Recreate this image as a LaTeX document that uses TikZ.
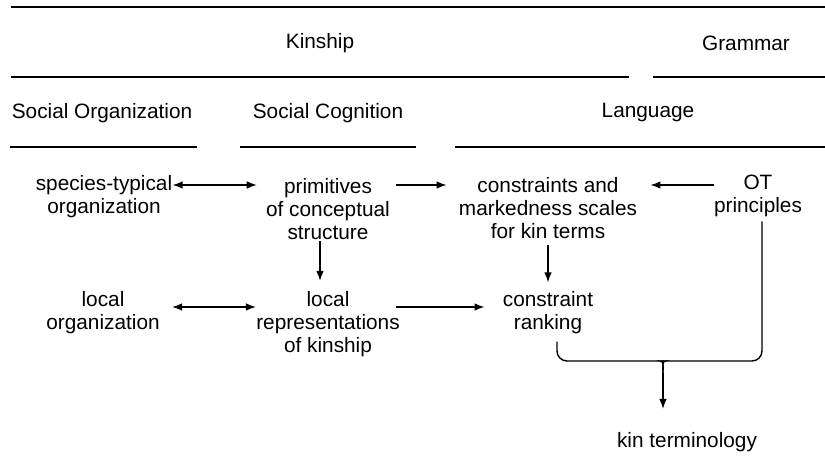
\documentclass[tikz,border=0pt]{standalone}
\usepackage{fontspec}
\setmainfont{Liberation Sans}
\usetikzlibrary{arrows.meta}
\usetikzlibrary{positioning}

\begin{document}
\begin{tikzpicture}[
    x=0.5pt, y=-0.5pt,
    font=\fontsize{10.4}{11.5}\selectfont
]
\tikzset{
    mynode/.style = {align=center, inner sep=0pt},
    rule/.style = {line width=0.7pt},
    edgea/.style = {-{Latex[length=5pt,width=3.8pt]}, line width=0.7pt},
    edgeb/.style = {{Latex[length=5pt,width=3.8pt]}-{Latex[length=5pt,width=3.8pt]}, line width=0.7pt},
    brace/.style = {line width=0.7pt, rounded corners=5pt}
}
\useasboundingbox (0,0) rectangle (825,474);
% header rows
\draw[rule] (11,7) -- (825,7);
\draw[rule] (11,77) -- (629,77);
\draw[rule] (653,77) -- (825,77);
\draw[rule] (10,147) -- (197,147);
\draw[rule] (240,147) -- (416,147);
\draw[rule] (455,147) -- (825,147);
\node[mynode] at (320,43) (kinship) {Kinship};
\node[mynode] at (746,43) (grammar) {Grammar};
\node[mynode] at (102,113) (socorg) {Social Organization};
\node[mynode] at (328,113) (soccog) {Social Cognition};
\node[mynode] at (648,113) (language) {Language};
% boxes
\node[mynode] at (104,197) (species) {species-typical\\organization};
\node[mynode] at (328,209) (primitives) {primitives\\of conceptual\\structure};
\node[mynode] at (548,208) (constraints) {constraints and\\markedness scales\\for kin terms};
\node[mynode] at (758,196) (ot) {OT\\principles};
\node[mynode] at (103,313) (local) {local\\organization};
\node[mynode] at (328,324) (localrep) {local\\representations\\of kinship};
\node[mynode] at (548,313) (ranking) {constraint\\ranking};
\node[mynode] at (687,442) (kin) {kin terminology};
\coordinate (tip) at (663,373);
% arrows
\draw[edgeb, shorten >=4.5pt] (species.east |- 0,185) -- (primitives.west |- 0,185);
\draw[edgea, shorten <=3pt, shorten >=6pt] (primitives.east |- 0,185) -- (constraints.west |- 0,185);
\draw[edgea, shorten >=6.5pt] (ot.west |- 0,185) -- (constraints.east |- 0,185);
\draw[edgea, shorten <=0.5pt, shorten >=5pt] (primitives.south -| 320,0) -- (localrep.north -| 320,0);
\draw[edgea, shorten <=3pt, shorten >=4.5pt] (constraints.south -| 548,0) -- (ranking.north -| 548,0);
\draw[edgeb, shorten <=6pt] (local.east |- 0,307) -- (localrep.west |- 0,307);
\draw[edgea, shorten >=9pt] ([xshift=-2pt]localrep.east |- 0,307) -- (ranking.west |- 0,307);
% brace
\draw[brace, shorten <=3.5pt] (ranking.south -| 557,0) -- (557,361) -- (656,361) [sharp corners] .. controls (662,361) and (663,365) .. (tip);
\draw[brace, shorten <=2pt] (ot.south -| 762,0) -- (762,361) -- (670,361) [sharp corners] .. controls (664,361) and (663,365) .. (tip);
\draw[edgea, shorten >=11.5pt] (tip) -- (kin.north -| tip);
\end{tikzpicture}
\end{document}
